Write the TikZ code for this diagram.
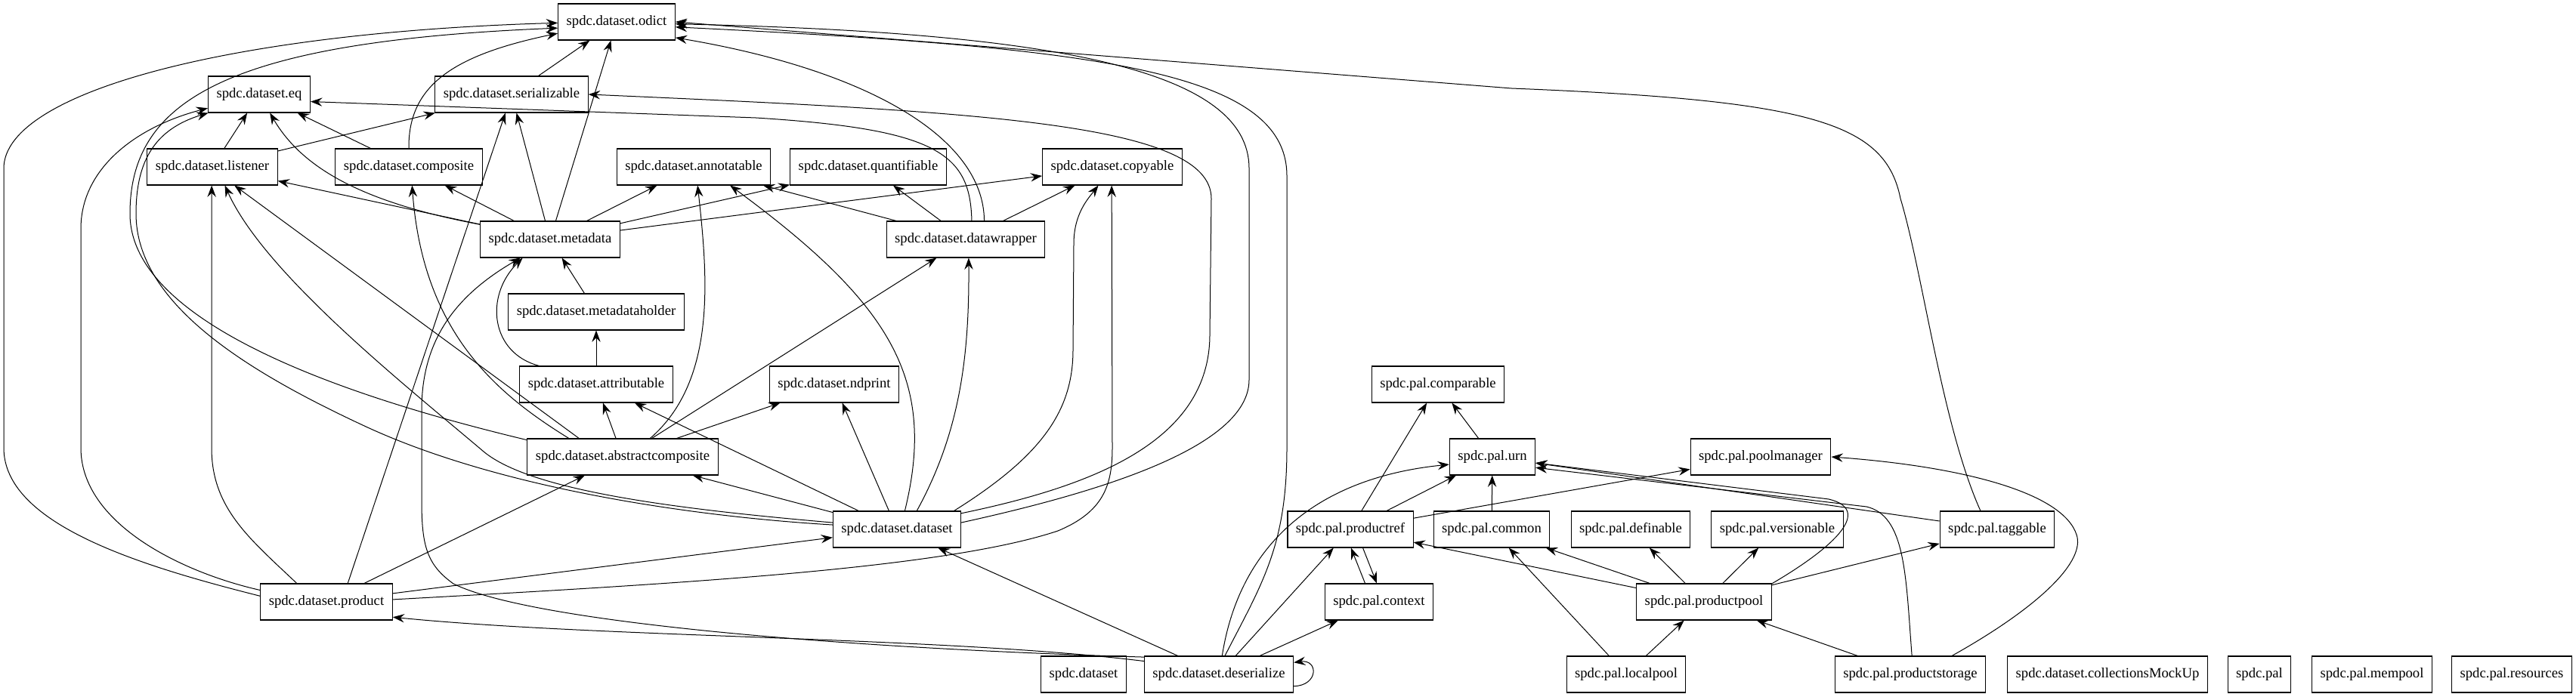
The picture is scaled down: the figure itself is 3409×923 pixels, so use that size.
\documentclass[tikz,border=0pt]{standalone}
\usepackage{fontspec}
\setmainfont{Liberation Serif}
\usetikzlibrary{arrows.meta}
\tikzset{>={Stealth[length=11.5pt,width=8.5pt,inset=4pt]},
  every node/.style={font=\fontsize{14pt}{17pt}\selectfont},
  module/.style={draw,line width=.8pt,rectangle,minimum height=36pt,
    inner xsep=8.25pt,inner ysep=0pt},
  dep/.style={->,line width=.75pt}}

\begin{document}
\begin{tikzpicture}[x=.75pt,y=.75pt]
\useasboundingbox (0,0) rectangle (3409,923);
% spdc.dataset
\node[module] (odict) at (816,894) {spdc.dataset.odict};
\node[module] (eq) at (343,798) {spdc.dataset.eq};
\node[module] (serializable) at (677,798) {spdc.dataset.serializable};
\node[module] (listener) at (281,702) {spdc.dataset.listener};
\node[module] (composite) at (541,702) {spdc.dataset.composite};
\node[module] (annotatable) at (918,702) {spdc.dataset.annotatable};
\node[module] (quantifiable) at (1149,702) {spdc.dataset.quantifiable};
\node[module] (copyable) at (1472,702) {spdc.dataset.copyable};
\node[module] (metadata) at (728,606) {spdc.dataset.metadata};
\node[module] (datawrapper) at (1278,606) {spdc.dataset.datawrapper};
\node[module] (metadataholder) at (789,510) {spdc.dataset.metadataholder};
\node[module] (attributable) at (789,414) {spdc.dataset.attributable};
\node[module] (ndprint) at (1104,414) {spdc.dataset.ndprint};
\node[module] (abstractcomposite) at (824,318) {spdc.dataset.abstractcomposite};
\node[module] (dataset) at (1187,222) {spdc.dataset.dataset};
\node[module] (product) at (432,126) {spdc.dataset.product};
\node[module] (datasetpkg) at (1434,30) {spdc.dataset};
\node[module] (deserialize) at (1613,30) {spdc.dataset.deserialize};
\node[module] (mockup) at (2789,30) {spdc.dataset.collectionsMockUp};
% spdc.pal
\node[module] (comparable) at (1903,414) {spdc.pal.comparable};
\node[module] (urn) at (1975,318) {spdc.pal.urn};
\node[module] (poolmanager) at (2330,318) {spdc.pal.poolmanager};
\node[module] (productref) at (1787,222) {spdc.pal.productref};
\node[module] (common) at (1974,222) {spdc.pal.common};
\node[module] (definable) at (2158,222) {spdc.pal.definable};
\node[module] (versionable) at (2352,222) {spdc.pal.versionable};
\node[module] (taggable) at (2643,222) {spdc.pal.taggable};
\node[module] (context) at (1825,126) {spdc.pal.context};
\node[module] (productpool) at (2255,126) {spdc.pal.productpool};
\node[module] (localpool) at (2152,30) {spdc.pal.localpool};
\node[module] (productstorage) at (2528,30) {spdc.pal.productstorage};
\node[module] (palpkg) at (2990,30) {spdc.pal};
\node[module] (mempool) at (3139,30) {spdc.pal.mempool};
\node[module] (resources) at (3324,30) {spdc.pal.resources};

% straight imports
\foreach \a/\b in {serializable/odict,metadata/odict,metadata/serializable,
  listener/eq,composite/eq,listener/serializable,metadata/listener,
  metadata/composite,metadata/annotatable,metadata/quantifiable,metadata/copyable,
  metadataholder/metadata,attributable/metadataholder,abstractcomposite/attributable,
  dataset/attributable,abstractcomposite/ndprint,dataset/ndprint,
  dataset/abstractcomposite,product/abstractcomposite,product/dataset,
  datawrapper/annotatable,datawrapper/quantifiable,datawrapper/copyable,
  abstractcomposite/datawrapper,deserialize/dataset,deserialize/productref,
  deserialize/context,productref/comparable,urn/comparable,productref/urn,
  common/urn,productref/poolmanager,productpool/productref,productpool/common,
  productpool/definable,productpool/versionable,productpool/taggable,
  localpool/common,localpool/productpool,productstorage/productpool,taggable/urn}
  \draw[dep] (\a) -- (\b);
\draw[dep] (product.41) -- (serializable);
\draw[dep] (abstractcomposite.157) -- (listener.320);
\draw[dep] (context.127) -- (productref.272);
\draw[dep] (productref.304) -- (context.97);

% routed imports, left side
\draw[dep] (product.175) .. controls (180,175) and (5,230) .. (5,330) -- (5,700)
  .. controls (5,800) and (300,880) .. (odict.181);
\draw[dep] (product.170) .. controls (240,165) and (107,230) .. (107,330) -- (107,620)
  .. controls (107,700) and (180,755) .. (eq.195);
\draw[dep] (product.148) .. controls (330,210) and (280,250) .. (280,330) -- (listener.268);
\draw[dep] (abstractcomposite.170) .. controls (520,383) and (172,480) .. (172,640)
  .. controls (172,790) and (300,868) .. (odict.186);
\draw[dep] (dataset.176) .. controls (900,240) and (650,280) .. (480,360)
  .. controls (330,430) and (180,520) .. (180,640)
  .. controls (180,710) and (205,752) .. (eq.200);
\draw[dep] (dataset.174) .. controls (880,250) and (700,275) .. (640,325)
  .. controls (540,410) and (350,560) .. (listener.304);
\draw[dep] (abstractcomposite.161) .. controls (660,400) and (560,480) .. (composite.280);
\draw[dep] (composite.north) .. controls (540,810) and (600,850) .. (odict.191);
\draw[dep] (metadata.168) .. controls (480,655) and (400,700) .. (eq.300);
\draw[dep] (attributable.162) .. controls (650,455) and (640,530) .. (metadata.214);
\draw[dep] (abstractcomposite.34) .. controls (950,420) and (936,560) .. (annotatable.282);

% routed imports, middle
\draw[dep] (datawrapper.72) .. controls (1284,720) and (1240,752) .. (1000,767) -- (eq.352);
\draw[dep] (datawrapper.45) .. controls (1302,740) and (1150,830) .. (odict.345);
\draw[dep] (dataset.14) .. controls (1450,280) and (1601,340) .. (1601,480) -- (1603,660)
  .. controls (1603,760) and (1300,775) .. (serializable.east);
\draw[dep] (dataset.6) .. controls (1450,270) and (1653,330) .. (1653,420) -- (1653,700)
  .. controls (1653,830) and (1400,880) .. (odict.358);
\draw[dep] (dataset.67) .. controls (1240,420) and (1180,520) .. (annotatable.333);
\draw[dep] (dataset.43) .. controls (1270,350) and (1283,450) .. (datawrapper.279);
\draw[dep] (dataset.18) .. controls (1380,320) and (1420,380) .. (1420,460) -- (1421,600)
  .. controls (1421,640) and (1440,660) .. (copyable.233);
\draw[dep] (product.2) .. controls (900,150) and (1250,170) .. (1400,220)
  .. controls (1460,245) and (1472,280) .. (1472,330) -- (copyable.268);
\draw[dep] (deserialize.167) .. controls (1100,65) and (700,100) .. (600,150)
  .. controls (565,175) and (558,200) .. (558,260) -- (558,380)
  .. controls (558,470) and (600,530) .. (metadata.212);
\draw[dep] (deserialize.170) .. controls (1250,80) and (800,78) .. (product.347);
\draw[dep] (deserialize.72) .. controls (1670,150) and (1703,200) .. (1703,330) -- (1703,690)
  .. controls (1703,830) and (1450,860) .. (odict.355);
\draw[dep] (deserialize.80) .. controls (1640,200) and (1740,290) .. (urn.190);
\draw[dep] (deserialize.351) .. controls (1745,15) and (1745,50) .. (deserialize.9);

% routed imports, right side
\draw[dep] (taggable.132) .. controls (2570,360) and (2545,560) .. (2515,660)
  .. controls (2495,760) and (2400,790) .. (2000,806) -- (odict.0);
\draw[dep] (productpool.15) .. controls (2430,200) and (2478,248) .. (2420,262) -- (urn.352);
\draw[dep] (productstorage.85) .. controls (2522,160) and (2522,240) .. (2470,252) -- (urn.346);
\draw[dep] (productstorage.24) .. controls (2700,120) and (2760,180) .. (2748,215)
  .. controls (2730,270) and (2600,305) .. (poolmanager.east);
\end{tikzpicture}
\end{document}
